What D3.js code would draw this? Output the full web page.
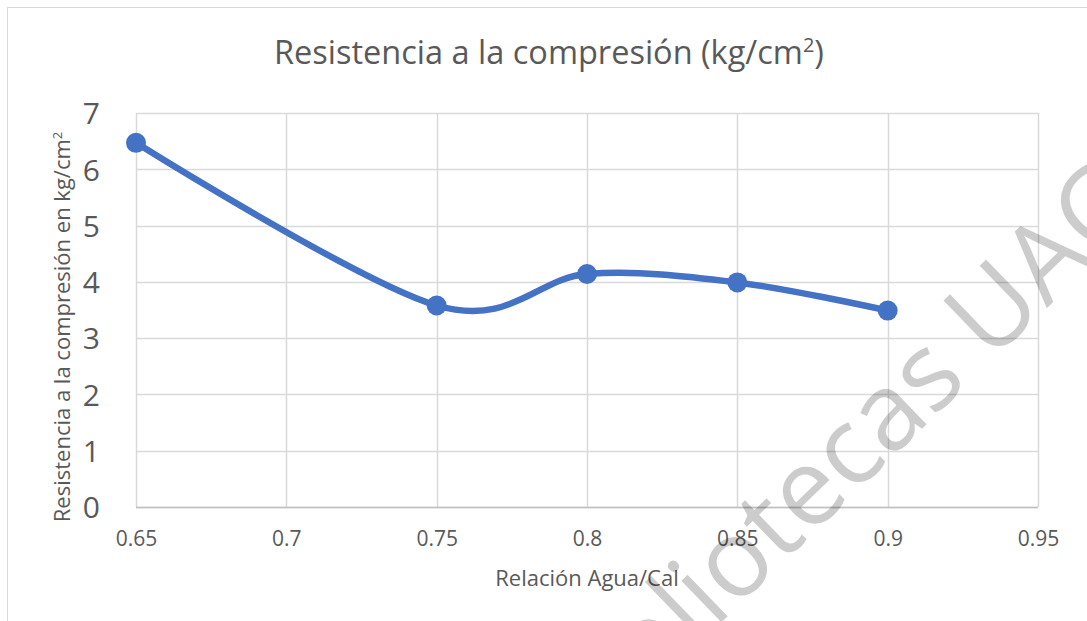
<!DOCTYPE html>
<html>
<head>
<meta charset="utf-8">
<script src="https://cdn.jsdelivr.net/npm/d3@7"></script>
<style>
  html, body { margin: 0; padding: 0; background: #fff; }
  svg { display: block; font-family: "Open Sans", "Noto Sans", sans-serif; }
</style>
</head>
<body>
<svg id="chart" width="1087" height="621"></svg>
<script>
// Data
const xValues = [0.65, 0.75, 0.8, 0.85, 0.9];
const yValues = [6.47, 3.58, 4.14, 3.99, 3.49];
const xTicks = [0.65, 0.7, 0.75, 0.8, 0.85, 0.9, 0.95];
const yTicks = [0, 1, 2, 3, 4, 5, 6, 7];
const titleText = "Resistencia a la compresión (kg/cm";
const xAxisTitle = "Relación Agua/Cal";
const yAxisTitle = "Resistencia a la compresión en kg/cm";
const watermarkText = "Bibliotecas UAC";

const svg = d3.select("#chart");
const W = 1087, H = 621;
const margin = { left: 136, right: 49, top: 113, bottom: 114 };

const x = d3.scaleLinear().domain([0.65, 0.95]).range([margin.left, W - margin.right]);
const y = d3.scaleLinear().domain([0, 7]).range([H - margin.bottom, margin.top]);

// Chart area border
svg.append("rect")
  .attr("x", 7.5).attr("y", 7.5)
  .attr("width", W + 10).attr("height", H + 10)
  .attr("fill", "#fff").attr("stroke", "#d9d9d9").attr("stroke-width", 1);

// Gridlines
svg.append("g")
  .selectAll("line")
  .data(yTicks)
  .join("line")
  .attr("x1", x(0.65)).attr("x2", x(0.95))
  .attr("y1", d => Math.round(y(d)) + 0.5).attr("y2", d => Math.round(y(d)) + 0.5)
  .attr("stroke", "#d9d9d9").attr("stroke-width", 1.5);

svg.append("g")
  .selectAll("line")
  .data(xTicks)
  .join("line")
  .attr("x1", d => Math.round(x(d)) + 0.5).attr("x2", d => Math.round(x(d)) + 0.5)
  .attr("y1", y(7)).attr("y2", y(0))
  .attr("stroke", "#d9d9d9").attr("stroke-width", 1.5);

// Bottom axis line
svg.append("line")
  .attr("x1", x(0.65)).attr("x2", x(0.95))
  .attr("y1", Math.round(y(0)) + 0.5).attr("y2", Math.round(y(0)) + 0.5)
  .attr("stroke", "#bfbfbf").attr("stroke-width", 1.5);

// X axis labels
const xAxis = d3.axisBottom(x).tickValues(xTicks).tickSize(0).tickPadding(0)
  .tickFormat(d => String(+d.toFixed(2)));
const gx = svg.append("g").attr("transform", `translate(0, ${y(0) + 24})`).call(xAxis);
gx.select(".domain").remove();
gx.selectAll("text").attr("fill", "#595959").attr("font-size", 21).attr("font-family", "Open Sans");

// Y axis labels
const yAxis = d3.axisLeft(y).tickValues(yTicks).tickSize(0).tickPadding(0).tickFormat(d3.format("d"));
const gy = svg.append("g").attr("transform", `translate(${x(0.65) - 36}, 0)`).call(yAxis);
gy.select(".domain").remove();
gy.selectAll("text").attr("fill", "#595959").attr("font-size", 30).attr("font-family", "Open Sans")
  .attr("dy", "0.36em");

// Title
const title = svg.append("text")
  .attr("x", 549).attr("y", 64)
  .attr("text-anchor", "middle")
  .attr("fill", "#595959").attr("font-size", 32.5);
title.append("tspan").text(titleText);
title.append("tspan").attr("font-size", 20).attr("dy", -12).text("2");
title.append("tspan").attr("dy", 12).text(")");

// X axis title
svg.append("text")
  .attr("x", 587).attr("y", 586)
  .attr("text-anchor", "middle")
  .attr("fill", "#595959").attr("font-size", 22)
  .text(xAxisTitle);

// Y axis title
const yt = svg.append("text")
  .attr("transform", `translate(70, 327) rotate(-90)`)
  .attr("text-anchor", "middle")
  .attr("fill", "#595959").attr("font-size", 22);
yt.append("tspan").text(yAxisTitle);
yt.append("tspan").attr("font-size", 13).attr("dy", -8).text("2");

// Line (smoothed like Excel)
const data = xValues.map((v, i) => ({ x: v, y: yValues[i] }));
const line = d3.line().x(d => x(d.x)).y(d => y(d.y)).curve(d3.curveCardinal.tension(0));
svg.append("path")
  .datum(data)
  .attr("d", line)
  .attr("fill", "none")
  .attr("stroke", "#4472c4")
  .attr("stroke-width", 6.5)
  .attr("stroke-linecap", "round")
  .attr("stroke-linejoin", "round");

svg.append("g")
  .selectAll("circle")
  .data(data)
  .join("circle")
  .attr("cx", d => x(d.x)).attr("cy", d => y(d.y))
  .attr("r", 10)
  .attr("fill", "#4472c4");

// Watermark
svg.append("text")
  .attr("transform", "translate(835, 460) rotate(-44)")
  .attr("text-anchor", "middle")
  .attr("dy", "0.35em")
  .attr("font-size", 108)
  .attr("fill", "#000")
  .attr("fill-opacity", 0.2)
  .text(watermarkText);
</script>
</body>
</html>
